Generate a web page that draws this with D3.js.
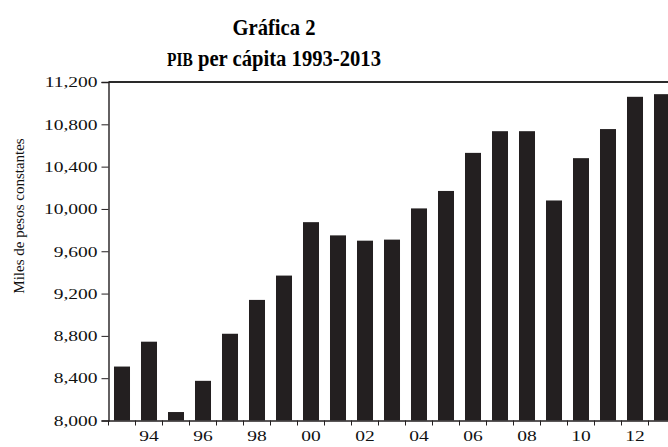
<!DOCTYPE html>
<html>
<head>
<meta charset="utf-8">
<script src="https://cdn.jsdelivr.net/npm/d3@7"></script>
<style>
  body { margin: 0; background: #fff; }
  svg { display: block; font-family: "Liberation Serif", "Times New Roman", serif; }
  .axis path, .axis line { stroke: #231f20; }
  .axis text { font-family: "Liberation Serif", "Times New Roman", serif; font-size: 15px; fill: #111; }
</style>
</head>
<body>
<svg width="668" height="447"></svg>
<script>
// PIB per cápita, miles de pesos constantes
var years = [1993, 1994, 1995, 1996, 1997, 1998, 1999, 2000, 2001, 2002, 2003,
             2004, 2005, 2006, 2007, 2008, 2009, 2010, 2011, 2012, 2013];
var pib = [8510, 8745, 8080, 8375, 8820, 9140, 9370, 9875, 9750, 9700, 9710,
           10005, 10170, 10530, 10735, 10735, 10080, 10480, 10755, 11060, 11085];
var yTicks = [8000, 8400, 8800, 9200, 9600, 10000, 10400, 10800, 11200];
var xLabelYears = [1994, 1996, 1998, 2000, 2002, 2004, 2006, 2008, 2010, 2012];

drawChart();

function drawChart() {
    var svg = d3.select("svg");
    var plotLeft = 108.5, plotTop = 82, plotBottom = 420.5, plotRight = 668;
    var stretch = 1.3; // tick labels in the original are wide

    var x = d3.scaleBand()
        .domain(years)
        .range([plotLeft, plotLeft + years.length * 27])
        .paddingInner(0.407)
        .paddingOuter(0.2035);

    var y = d3.scaleLinear()
        .domain([8000, 11200])
        .range([plotBottom, plotTop]);

    // bars
    svg.append("g").selectAll("rect")
        .data(years)
        .enter().append("rect")
        .attr("x", function(d) { return x(d); })
        .attr("width", x.bandwidth())
        .attr("y", function(d, i) { return y(pib[i]); })
        .attr("height", function(d, i) { return plotBottom - y(pib[i]); })
        .attr("fill", "#231f20");

    // top frame line
    svg.append("line")
        .attr("x1", plotLeft).attr("x2", plotRight)
        .attr("y1", plotTop).attr("y2", plotTop)
        .attr("stroke", "#2a2a2a")
        .attr("stroke-width", 2);

    // y axis
    var yAxis = svg.append("g")
        .attr("class", "axis")
        .attr("transform", "translate(" + plotLeft + ",0)")
        .call(d3.axisLeft(y).tickValues(yTicks).tickFormat(d3.format(",")).tickSize(7).tickPadding(4));
    yAxis.select(".domain").attr("stroke-width", 1.4);
    yAxis.selectAll(".tick line").attr("stroke-width", 1);
    yAxis.selectAll(".tick text")
        .attr("x", -11 / stretch)
        .attr("transform", "scale(" + stretch + ",1)");

    // x axis: labels for even years, ticks between bars
    var xAxis = svg.append("g")
        .attr("class", "axis")
        .attr("transform", "translate(0," + plotBottom + ")")
        .call(d3.axisBottom(x).tickValues(xLabelYears).tickSize(0).tickPadding(10)
            .tickFormat(function(d) { return String(d).slice(2); }));
    xAxis.select(".domain").attr("stroke-width", 1.4);
    xAxis.selectAll(".tick text").attr("transform", "scale(" + stretch + ",1)");

    var half = (x.step() - x.bandwidth()) / 2;
    xAxis.append("g").selectAll("line")
        .data(years)
        .enter().append("line")
        .attr("x1", function(d) { return x(d) - half; })
        .attr("x2", function(d) { return x(d) - half; })
        .attr("y1", 0).attr("y2", 5)
        .attr("stroke", "#231f20")
        .attr("stroke-width", 1);

    // y axis title
    svg.append("text")
        .attr("transform", "translate(24,216) rotate(-90)")
        .attr("text-anchor", "middle")
        .style("font-size", "15px")
        .attr("fill", "#111")
        .text("Miles de pesos constantes");

    // titles (condensed bold serif in the original)
    svg.append("text")
        .attr("transform", "translate(274,35) scale(0.86,1)")
        .attr("text-anchor", "middle")
        .style("font-size", "24px")
        .style("font-weight", "bold")
        .text("Gráfica 2");

    var t2 = svg.append("text")
        .attr("transform", "translate(274,66) scale(0.86,1)")
        .attr("text-anchor", "middle")
        .style("font-size", "24px")
        .style("font-weight", "bold");
    t2.append("tspan").style("font-size", "18px").text("PIB");
    t2.append("tspan").text(" per cápita 1993-2013");
}
</script>
</body>
</html>
